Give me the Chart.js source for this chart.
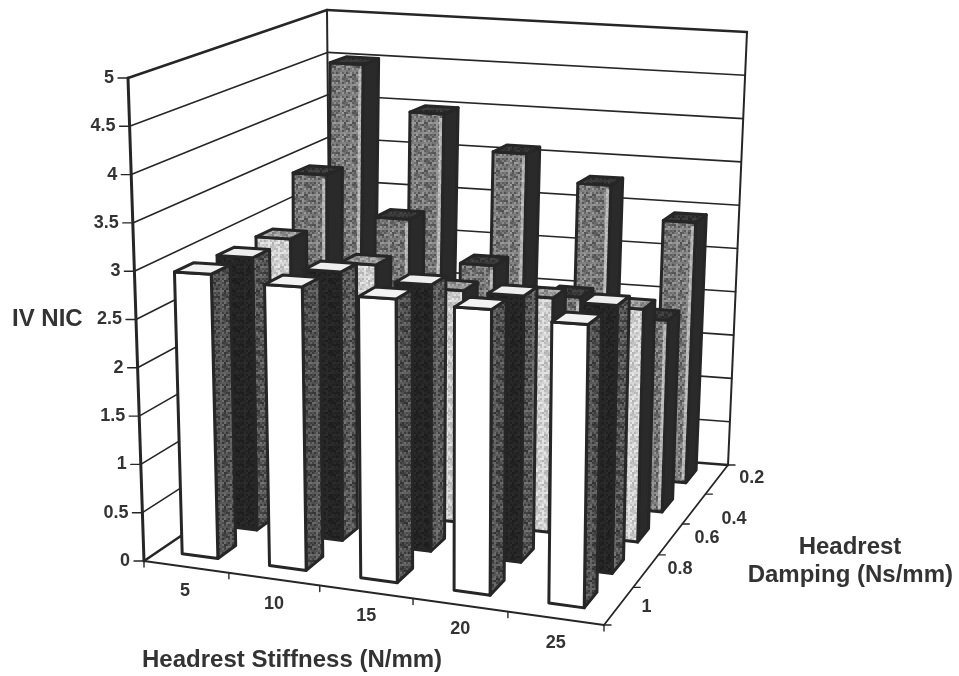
<!DOCTYPE html>
<html><head><meta charset="utf-8">
<style>html,body{margin:0;padding:0;background:#fff}canvas{display:block}</style>
<script src="https://cdn.jsdelivr.net/npm/chart.js@4"></script>
</head><body><canvas id="c" width="959" height="676"></canvas>
<script>
// ---- data ----
const stiffness = ['5','10','15','20','25'];
const damping = ['1','0.8','0.6','0.4','0.2'];          // front row to back row
const nicDamping10 = [2.93,2.86,2.8,2.76,2.68];
const nicDamping08 = [2.89,2.8,2.73,2.68,2.65];
const nicDamping06 = [2.89,2.67,2.46,2.45,2.4];
const nicDamping04 = [3.41,2.97,2.52,2.24,2.06];
const nicDamping02 = [4.5,3.98,3.58,3.28,2.92];
const valueTicks = [0,0.5,1,1.5,2,2.5,3,3.5,4,4.5,5];

// ---- layout of the 3D box ----
const floorQuad = [[144,561],[604,625],[728,465],[331,434]];
const wallTopQuad = [[128,78],[612,84],[747,32],[327,10]];
const barTopQuad  = [[128,78],[612,84],[747,32],[335,10]];
const warpS = 1.05, warpD = 0.9;
const barHalfW = 0.21, barTaper = 0.006, barHalfD = 0.22, rowShift = 0.03;
const ink = '#262626';
const stiffOffset = [0,24.5];
const dampOffset = [[27,2],[34,-2],[36.5,-1],[40,10],[35,-1]];

function bilinear(q,u,t){
  const f=k=>(1-t)*(q[0][k]*(1-u)+q[1][k]*u)+t*(q[3][k]*(1-u)+q[2][k]*u);
  return [f(0),f(1)];
}
// s and d in cell units (0..5), z as a fraction of the value axis
function project(s,d,z,quad=wallTopQuad){
  const u=Math.pow(s/5,warpS),t=Math.pow(d/5,warpD);
  const p=bilinear(floorQuad,u,t), q=bilinear(quad,u,t);
  return [p[0]+(q[0]-p[0])*z, p[1]+(q[1]-p[1])*z];
}
function tex(base,amp){
  const c=document.createElement('canvas');c.width=c.height=24;
  const x=c.getContext('2d');
  for(let j=0;j<12;j++)for(let i=0;i<12;i++){
    const n=(((i*7+j*13+(i*j)%5*11)%17)/16-0.5)*2;
    const g=Math.max(0,Math.min(255,Math.round(base+amp*n)));
    x.fillStyle=`rgb(${g},${g},${g})`;x.fillRect(i*2,j*2,2,2);
  }
  return x.createPattern(c,'repeat');
}
function poly(ctx,pts,fill){
  ctx.beginPath();pts.forEach((p,i)=>i?ctx.lineTo(p[0],p[1]):ctx.moveTo(p[0],p[1]));ctx.closePath();
  ctx.fillStyle=fill;ctx.fill();ctx.stroke();
}
class Bar3DController extends Chart.BarController{
  draw(){
    const chart=this.chart,ctx=chart.ctx,ds=this.getDataset(),meta=this.getMeta();
    const xs=meta.xScale,ys=meta.yScale,area=chart.chartArea;
    const d=this.index+0.5+rowShift;
    const P=(s,dd,z)=>project(s,dd,z,barTopQuad);
    ctx.save();ctx.lineJoin='round';ctx.strokeStyle=ink;ctx.lineWidth=3;
    meta.data.forEach((el,i)=>{
      const s=5*(xs.getPixelForValue(i)-area.left)/area.width;
      const z=(area.bottom-ys.getPixelForValue(this.getParsed(i).y))/area.height;
      const hw=barHalfW-barTaper*i;
      const s0=s-hw,s1=s+hw,d0=d-barHalfD,d1=d+barHalfD;
      const FL0=P(s0,d0,0),FR0=P(s1,d0,0),BR0=P(s1,d1,0);
      const FLz=P(s0,d0,z),FRz=P(s1,d0,z),BRz=P(s1,d1,z),BLz=P(s0,d1,z);
      poly(ctx,[FR0,BR0,BRz,FRz],ds.sideFill);
      poly(ctx,[FL0,FR0,FRz,FLz],ds.backgroundColor);
      if(ds.rimColor){
        ctx.save();ctx.strokeStyle=ds.rimColor;ctx.lineWidth=3;ctx.beginPath();
        ctx.moveTo(FRz[0]-3,FRz[1]+4);ctx.lineTo(FR0[0]-3,FR0[1]-3);ctx.stroke();ctx.restore();
      }
      poly(ctx,[FLz,FRz,BRz,BLz],ds.topFill);
    });
    ctx.restore();
  }
}
Bar3DController.id='bar3d';
Bar3DController.defaults=Chart.BarController.defaults;
Chart.register(Bar3DController);

const boxPlugin={id:'box',beforeDatasetsDraw(chart){
  const ctx=chart.ctx,ys=chart.scales.y,a=chart.chartArea;
  const line=(p,q,w)=>{ctx.lineWidth=w;ctx.beginPath();ctx.moveTo(p[0],p[1]);ctx.lineTo(q[0],q[1]);ctx.stroke();};
  ctx.save();ctx.strokeStyle=ink;ctx.lineCap='round';
  valueTicks.forEach(v=>{
    const z=(a.bottom-ys.getPixelForValue(v))/a.height;
    const w=(v===0||v===5)?2.6:1.6;
    const L=project(0,0,z),M=project(0,5,z),R=project(5,5,z);
    line(L,M,w);line(M,R,w);
    line([L[0]-10,L[1]],L,1.4);
  });
  line(project(0,0,0),project(0,0,1),3);
  line(project(0,5,0),project(0,5,1),2);
  line(project(5,5,0),project(5,5,1),2);
  for(let i=0;i<=5;i++){
    const p=project(i,0,0),q=project(5,i,0);
    line(p,[p[0],p[1]+6],1.4);line(q,[q[0]+7,q[1]],1.4);
  }
  line(project(0,0,0),project(5,0,0),1.8);
  line(project(5,0,0),project(5,5,0),1.8);
  ctx.restore();
},afterDatasetsDraw(chart){
  const ctx=chart.ctx,ys=chart.scales.y,a=chart.chartArea;
  ctx.save();ctx.fillStyle='#333333';ctx.textBaseline='middle';
  ctx.font='bold 18px "Liberation Sans"';ctx.textAlign='right';
  valueTicks.forEach(v=>{
    const z=(a.bottom-ys.getPixelForValue(v))/a.height;const p=project(0,0,z);
    ctx.fillText(String(v),p[0]-14,p[1]);
  });
  ctx.textAlign='center';
  stiffness.forEach((t,i)=>{const p=project(i+0.5,0,0);ctx.fillText(t,p[0]+stiffOffset[0],p[1]+stiffOffset[1]);});
  damping.forEach((t,i)=>{const p=project(5,i+0.5,0);ctx.fillText(t,p[0]+dampOffset[i][0],p[1]+dampOffset[i][1]);});
  ctx.font='bold 24px "Liberation Sans"';
  ctx.textAlign='left';ctx.fillText('IV NIC',12,319);
  ctx.fillText('Headrest Stiffness (N/mm)',142,660);
  ctx.textAlign='center';ctx.fillText('Headrest',850,547);
  ctx.textAlign='right';ctx.fillText('Damping (Ns/mm)',953,575);
  ctx.restore();
}};

const series=[nicDamping10,nicDamping08,nicDamping06,nicDamping04,nicDamping02];
const fronts=[()=>'#ffffff',()=>tex(36,8),()=>tex(205,28),()=>tex(115,38),()=>tex(118,38)];
const sides=[()=>tex(80,30),()=>tex(85,32),()=>'#2a2a2a',()=>'#2a2a2a',()=>'#2a2a2a'];
const tops=[()=>'#f2f2f2',()=>'#eeeeee',()=>tex(150,30),()=>tex(55,14),()=>tex(50,14)];
const rims=[null,null,null,'rgba(235,235,235,0.55)','rgba(235,235,235,0.55)'];
new Chart(document.getElementById('c'),{
  type:'bar3d',
  data:{labels:stiffness,datasets:series.map((v,i)=>({label:damping[i],data:v,
    backgroundColor:fronts[i](),sideFill:sides[i](),topFill:tops[i](),rimColor:rims[i]}))},
  options:{responsive:false,animation:false,layout:{padding:0},
    plugins:{legend:{display:false},title:{display:false},tooltip:{enabled:false}},
    scales:{x:{display:false},y:{display:false,min:0,max:5,ticks:{stepSize:0.5}}}},
  plugins:[boxPlugin]
});
</script></body></html>
